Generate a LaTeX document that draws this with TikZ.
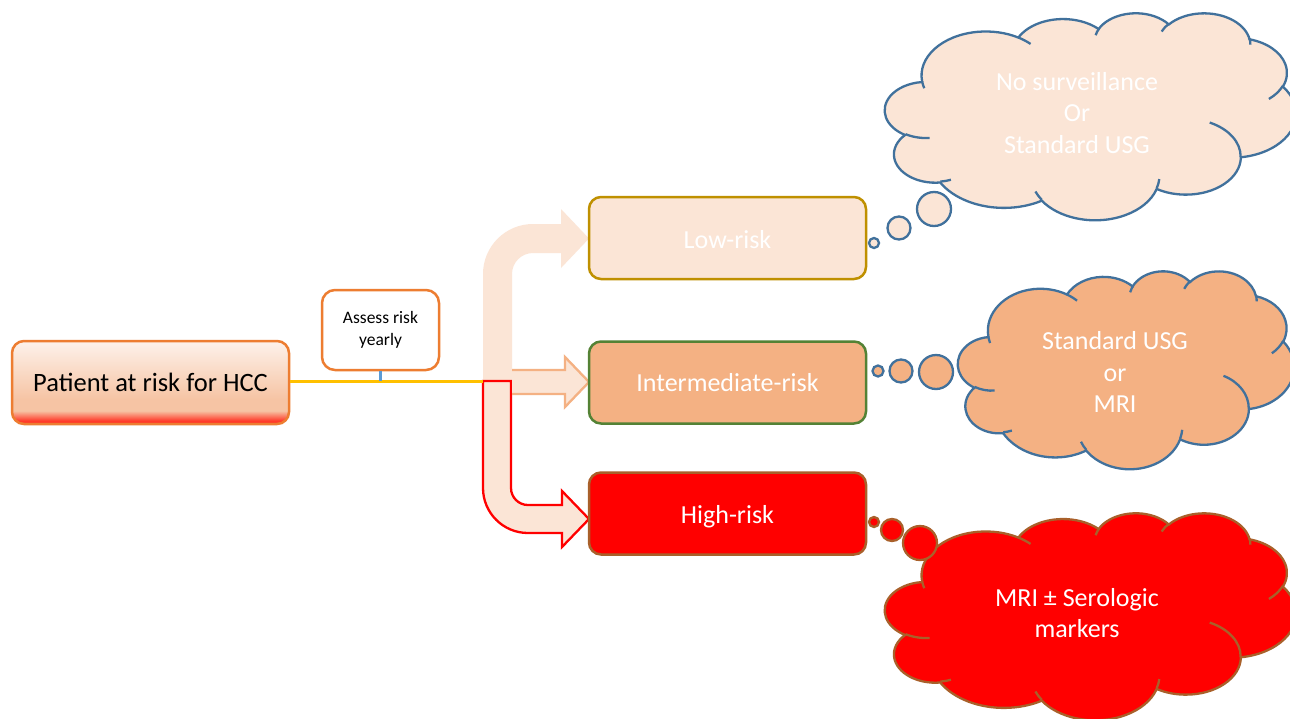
\documentclass[tikz,border=0pt]{standalone}
\usepackage{fontspec}
\setmainfont{Carlito}
\definecolor{peachL}{HTML}{FBE5D6}
\definecolor{peach}{HTML}{F4B183}
\definecolor{orng}{HTML}{ED7D31}
\definecolor{gold}{HTML}{BF9000}
\definecolor{grn}{HTML}{548235}
\definecolor{brwn}{HTML}{A9602A}
\definecolor{cblue}{HTML}{41719C}
\definecolor{ylw}{HTML}{FFC000}
\definecolor{tickblue}{HTML}{5B9BD5}
\definecolor{pTop}{HTML}{FDF2EB}
\definecolor{pMid}{HTML}{F6C4A4}
\definecolor{pRed}{HTML}{FF3B2A}
\pgfdeclareverticalshading{patshade}{100bp}{color(0bp)=(pRed); color(25bp)=(pRed); color(27bp)=(pRed); color(33bp)=(pMid); color(40bp)=(pMid); color(75bp)=(pTop); color(100bp)=(pTop)}
\tikzset{
  carc/.style n args={4}{/utils/exec={%
      \pgfmathsetmacro\cA{atan2((#1)*sin(#3),(#2)*cos(#3))}%
      \pgfmathsetmacro\cB{atan2((#1)*sin((#3)+(#4)),(#2)*cos((#3)+(#4)))}%
      \pgfmathsetmacro\cD{\cB-\cA}%
      \pgfmathsetmacro\cD{\cD-360*round((\cD-(#4))/360)}},
    insert path={arc[x radius=#1, y radius=#2, start angle=\cA, delta angle=\cD]}},
  patbox/.style={draw=orng, line width=2.5pt, rounded corners=12pt, minimum width=277pt, minimum height=83pt, shade, shading=patshade, font=\fontsize{26.5}{31}\selectfont, inner sep=0pt},
  assessbox/.style={draw=orng, line width=2.5pt, rounded corners=13pt, fill=white, minimum width=117pt, minimum height=80pt, align=center, font=\fontsize{17.5}{22}\selectfont, inner sep=0pt},
  riskbox/.style={line width=2.5pt, rounded corners=12pt, minimum width=277pt, minimum height=82pt, text=white, font=\fontsize{26}{31}\selectfont, inner sep=0pt},
  cloudtext/.style={text=white, align=center, font=\fontsize{26}{31.5}\selectfont, inner sep=0pt},
  cloudline/.style={line width=2.3pt},
}
\newcommand\drawcloud[6]{%
\begin{scope}[shift={(#1,#2)}, x=#3pt, y=-#4pt]
\path[fill=#5, draw=#6, cloudline] (39.00,143.70)
  [carc={67.53}{91.90}{-190.4875}{123.7805}]
  [carc={53.33}{72.67}{-144.1024}{89.9452}]
  [carc={43.65}{59.45}{-145.8079}{99.7230}]
  [carc={48.57}{65.95}{-130.9861}{117.2417}]
  [carc={53.33}{72.73}{-78.7089}{109.0269}]
  [carc={67.75}{92.20}{-46.2673}{130.2690}]
  [carc={57.85}{78.67}{0.6250}{114.0333}]
  [carc={67.52}{92.15}{22.4516}{115.1726}]
  [carc={77.20}{105.43}{66.2426}{75.7110}]
  [carc={43.60}{59.18}{-274.9421}{146.7356}]
  [carc={43.45}{59.45}{-246.8285}{152.5189}]
  -- cycle;
\draw[draw=#6, cloudline]
  (46.93,261.77) [carc={43.45}{59.45}{86.7420}{26.4295}]
  (69.28,348.99) [carc={43.60}{59.18}{73.6105}{11.4475}]
  (164.78,390.90) [carc={67.52}{92.15}{137.6242}{14.0811}]
  (288.27,347.51) [carc={67.52}{92.15}{6.4533}{15.9984}]
  (341.29,229.54) [carc={57.85}{78.67}{-70.2924}{70.9174}]
  (417.98,153.54) [carc={53.33}{72.73}{30.3180}{27.7515}]
  (383.24,54.26) [carc={48.57}{65.95}{-13.7443}{14.8589}]
  (290.78,39.52) [carc={48.57}{65.95}{-149.1815}{18.1954}]
  (221.41,47.20) [carc={43.65}{59.45}{-163.4943}{17.6864}]
  (140.00,51.92) [carc={67.53}{91.90}{-66.7070}{12.3194}]
  (41.27,157.89) [carc={67.53}{91.90}{157.6544}{11.8582}];
\end{scope}}
\begin{document}
\begin{tikzpicture}[x=1pt, y=-1pt]
\clip (0,0) rectangle (1290,718);
\fill[white] (0,0) rectangle (1290,718);

% block arrows
\fill[peachL] (483,381) -- (483,274) arc[start angle=180, end angle=270, radius=50]
  -- (561,224) -- (561,209) -- (589,238.5) -- (561,268) -- (561,253) -- (533,253)
  arc[start angle=270, end angle=180, radius=21] -- (512,381) -- cycle;
\draw[red, line width=2.3pt, fill=peachL, line join=miter] (483,381) -- (511,381) -- (511,488)
  arc[start angle=180, end angle=90, radius=17] -- (562,505) -- (562,491) -- (589,519)
  -- (562,547) -- (562,533) -- (528,533) arc[start angle=90, end angle=180, radius=45] -- cycle;
\fill[peachL] (512,370) -- (565,370) -- (565,357) -- (589,382) -- (565,407) -- (565,394) -- (512,394) -- cycle;
\draw[peach, line width=2.3pt, line join=miter] (512,370) -- (565,370) -- (565,357) -- (589,382) -- (565,407) -- (565,394) -- (512,394);

% boxes
\node[patbox] (pat) at (150.5,382.5) {Patient at risk for HCC};
\node[assessbox] (assess) at (380.5,330) {Assess risk\\yearly};
\node[riskbox, fill=peachL, draw=gold] (low) at (727.5,238) {\raisebox{-1.5pt}[\height][\depth]{Low-risk}};
\node[riskbox, fill=peach, draw=grn] (mid) at (727.5,382.5) {Intermediate-risk};
\node[riskbox, fill=red, draw=brwn] (high) at (727.5,513.5) {\raisebox{-3pt}[\height][\depth]{High-risk}};

% connectors
\coordinate (split) at (483,381);
\draw[ylw, line width=3pt] (pat.east |- split) -- (split);
\draw[tickblue, line width=2.5pt] (assess.south) -- (assess.south |- split);

% clouds
\drawcloud{885}{12.6}{0.9514}{0.479}{peachL}{cblue}
\drawcloud{958}{270.7}{0.7778}{0.458}{peach}{cblue}
\drawcloud{885}{512.6}{0.9514}{0.479}{red}{brwn}

% bubbles
\draw[cloudline, fill=peachL, draw=cblue] (874,243) circle[radius=5];
\draw[cloudline, fill=peachL, draw=cblue] (899,228) circle[radius=11.5];
\draw[cloudline, fill=peachL, draw=cblue] (934,209) circle[radius=17];
\draw[cloudline, fill=peach, draw=cblue] (878,371) circle[radius=5.5];
\draw[cloudline, fill=peach, draw=cblue] (901,371) circle[radius=11.5];
\draw[cloudline, fill=peach, draw=cblue] (936,372) circle[radius=17];
\draw[cloudline, fill=red, draw=brwn] (874,522) circle[radius=5];
\draw[cloudline, fill=red, draw=brwn] (892,530) circle[radius=11];
\draw[cloudline, fill=red, draw=brwn] (920,543) circle[radius=17];

% cloud texts
\node[cloudtext] (t1) at (1077,113) {No surveillance\\Or\\Standard USG};
\node[cloudtext] (t2) at (1115,372) {Standard USG\\or\\MRI};
\node[cloudtext] (t3) at (1077,613) {MRI ± Serologic\\markers};
\end{tikzpicture}
\end{document}
